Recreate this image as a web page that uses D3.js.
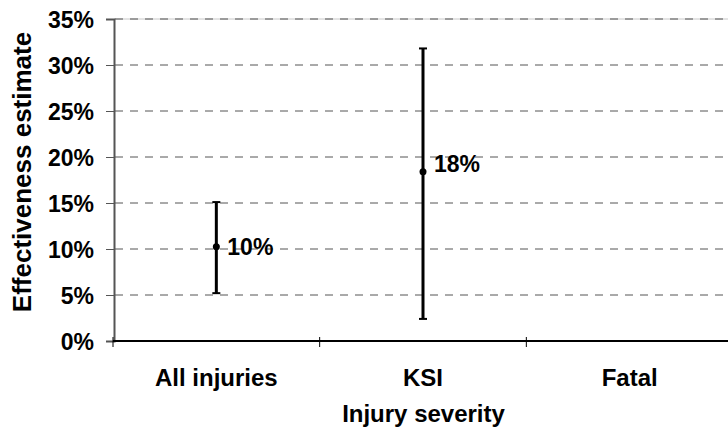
<!DOCTYPE html>
<html>
<head>
<meta charset="utf-8">
<script src="https://cdn.jsdelivr.net/npm/d3@7"></script>
<style>
  html, body { margin: 0; padding: 0; background: #fff; }
  svg { display: block; }
  text { font-family: "Liberation Sans", Arial, sans-serif; font-weight: bold; fill: #000; }
</style>
</head>
<body>
<svg id="chart" width="728" height="432"></svg>
<script>
// ---- data ----
const categories = ["All injuries", "KSI", "Fatal"];
const estimates  = [10.25, 18.4, null];
const lowerCI    = [5.2, 2.4, null];
const upperCI    = [15.1, 31.8, null];
const pointLabels = ["10%", "18%", ""];
const yTicks = [0, 5, 10, 15, 20, 25, 30, 35];
const yTickLabels = ["0%", "5%", "10%", "15%", "20%", "25%", "30%", "35%"];
const xTitle = "Injury severity";
const yTitle = "Effectiveness estimate";

// ---- layout ----
const W = 728, H = 432;
const mLeft = 114, mRight = 733, mTop = 19, mBottom = 341;
const svg = d3.select("#chart");

const x = d3.scaleBand().domain(categories).range([mLeft - 1, mRight]).padding(0);
const y = d3.scaleLinear().domain([0, 35]).range([mBottom, mTop]);

// gridlines
const grid = svg.append("g");
grid.selectAll("line.grid").data(yTicks.filter(d => d > 0)).join("line")
  .attr("x1", mLeft).attr("x2", W)
  .attr("y1", d => y(d)).attr("y2", d => y(d))
  .attr("stroke", d => d === 35 ? "#c8c8c8" : "none")
  .attr("stroke-width", 1);
grid.selectAll("line.dash").data(yTicks.filter(d => d > 0)).join("line")
  .attr("x1", mLeft + 1).attr("x2", W)
  .attr("y1", d => y(d)).attr("y2", d => y(d))
  .attr("stroke", "#555")
  .attr("stroke-width", 1)
  .attr("stroke-dasharray", "8,7");

// y axis
const yAxis = d3.axisLeft(y).tickValues(yTicks)
  .tickFormat((d, i) => yTickLabels[i]).tickSize(8).tickPadding(12);
const gy = svg.append("g").attr("transform", `translate(${mLeft},0)`).call(yAxis);
gy.select(".domain").attr("stroke", "#555").attr("stroke-width", 2);
gy.selectAll(".tick line").attr("stroke", "#555").attr("stroke-width", 1);
gy.selectAll(".tick text").attr("font-size", 23).attr("fill", "#000")
  .attr("dy", "0.36em")
  .style("font-family", '"Liberation Sans", Arial, sans-serif').style("font-weight", "bold");

// x axis line (black)
svg.append("line").attr("x1", mLeft - 1).attr("x2", W).attr("y1", mBottom).attr("y2", mBottom)
  .attr("stroke", "#000").attr("stroke-width", 2);
// x boundary ticks
const boundaries = categories.map(c => x(c));
svg.selectAll("line.xtick").data(boundaries).join("line")
  .attr("x1", d => d).attr("x2", d => d)
  .attr("y1", mBottom - 4).attr("y2", mBottom + 6)
  .attr("stroke", "#000").attr("stroke-width", 1);

// category labels
svg.selectAll("text.cat").data(categories).join("text")
  .attr("x", d => x(d) + x.bandwidth() / 2)
  .attr("y", 386)
  .attr("text-anchor", "middle").attr("font-size", 24)
  .text(d => d);

// axis titles
svg.append("text").attr("x", (mLeft + mRight) / 2).attr("y", 422)
  .attr("text-anchor", "middle").attr("font-size", 24).text(xTitle);
svg.append("text").attr("transform", `translate(31,172) rotate(-90)`)
  .attr("text-anchor", "middle").attr("font-size", 26).text(yTitle);

// error bars
const idx = d3.range(categories.length).filter(i => estimates[i] != null);
const cx = i => x(categories[i]) + x.bandwidth() / 2;
const eb = svg.append("g");
eb.selectAll("line.bar").data(idx).join("line")
  .attr("x1", cx).attr("x2", cx)
  .attr("y1", i => y(lowerCI[i])).attr("y2", i => y(upperCI[i]))
  .attr("stroke", "#000").attr("stroke-width", 3);
eb.selectAll("line.capT").data(idx).join("line")
  .attr("x1", i => cx(i) - 4).attr("x2", i => cx(i) + 4)
  .attr("y1", i => y(upperCI[i])).attr("y2", i => y(upperCI[i]))
  .attr("stroke", "#000").attr("stroke-width", 2);
eb.selectAll("line.capB").data(idx).join("line")
  .attr("x1", i => cx(i) - 4).attr("x2", i => cx(i) + 4)
  .attr("y1", i => y(lowerCI[i])).attr("y2", i => y(lowerCI[i]))
  .attr("stroke", "#000").attr("stroke-width", 2);
eb.selectAll("circle").data(idx).join("circle")
  .attr("cx", cx).attr("cy", i => y(estimates[i])).attr("r", 3.5).attr("fill", "#000");
eb.selectAll("text.lbl").data(idx).join("text")
  .attr("x", i => cx(i) + 11)
  .attr("y", i => y(estimates[i]) - (i === 1 ? 8 : 0))
  .attr("dy", "0.36em").attr("font-size", 23)
  .text(i => pointLabels[i]);
</script>
</body>
</html>
